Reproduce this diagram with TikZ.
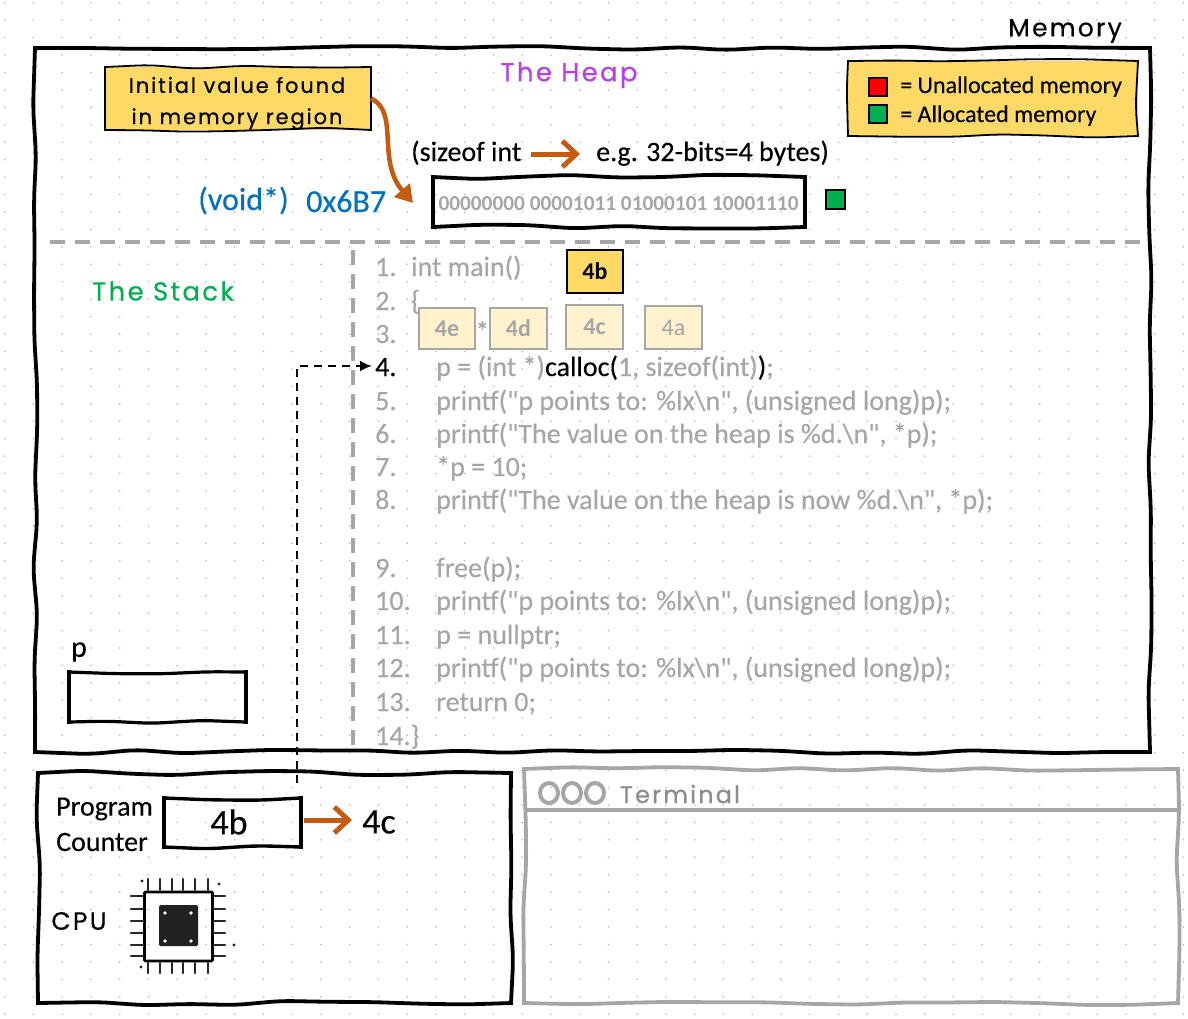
\documentclass[tikz,border=0pt]{standalone}
\usepackage{fontspec}
\usepackage{tikz}
\usetikzlibrary{decorations.pathmorphing,arrows.meta}
\setmainfont{Carlito}
\newfontfamily\bodyfont[UprightFeatures={FakeBold=0.25}]{Carlito}
\newfontfamily\handfont[LetterSpace=9,FakeBold=0.5]{Poppins}
\definecolor{notefill}{HTML}{FFD966}
\definecolor{palefill}{HTML}{FFF2CC}
\definecolor{linegray}{HTML}{A6A6A6}
\definecolor{rust}{HTML}{C55A11}
\definecolor{okgreen}{HTML}{00B050}
\definecolor{codeblue}{HTML}{0070C0}
\definecolor{heappurple}{HTML}{B93FE8}
\tikzset{
  rough/.style={decorate,decoration={random steps,segment length=46pt,amplitude=2.4pt},rounded corners=12pt,line cap=rect},
  area/.style={inner sep=0pt,outer sep=0pt,anchor=north west},
  swatch/.style={draw,line width=1.3pt,minimum size=18pt,inner sep=0pt},
  bytebox/.style={area,draw=black,fill=notefill,line width=1.8pt,font=\fontsize{24}{24}\selectfont\bfseries},
  palebox/.style={area,draw=linegray,fill=palefill,text=linegray,line width=1.6pt,font=\fontsize{24}{24}\selectfont\bfseries},
  hand/.style={font=\fontsize{#1}{#1}\selectfont\handfont},
  body/.style={font=\fontsize{#1}{#1}\selectfont\bodyfont,inner sep=0pt,yshift=-1pt},
  body/.default=28,
  codeline/.style={body,text=linegray,anchor=base west},
  thick arrow/.style={draw=rust,line width=5pt,-{Straight Barb[length=14pt,width=26pt,line width=5pt]}},
  pin/.style={line width=2.6pt,line cap=round,color=black!85}
}
\newcommand{\roughsides}[2]{
  \draw[rough,#2] (#1.north west)--(#1.north east);
  \draw[rough,#2] (#1.north east)--(#1.south east);
  \draw[rough,#2] (#1.south east)--(#1.south west);
  \draw[rough,#2] (#1.south west)--(#1.north west);
}
\begin{document}
\begin{tikzpicture}[x=1pt,y=-1pt]
\pgfmathsetseed{11}
\useasboundingbox (0,0) rectangle (1188,1018);
\fill[white] (0,0) rectangle (1188,1018);
\foreach \i in {0,...,41}
  \foreach \j in {0,...,58}
    \fill[black!28] ({4.7+28.75*\i},{2.7+17.44*\j}) circle [radius=0.9];

% memory
\node[area,minimum width=1115pt,minimum height=704pt] (memory) at (35,48) {};
\roughsides{memory}{line width=3.8pt}
\node[hand=25] (memorylabel) at (1065,31) {Memory};
\node[hand=26,text=heappurple] (heaplabel) at (569,75) {The Heap};
\node[hand=26,text=okgreen] (stacklabel) at (163,291) {The Stack};

% divider
\draw[linegray,line width=4pt,dash pattern=on 15pt off 10pt] (50,242)--(1140,242);
\draw[linegray,line width=4pt,dash pattern=on 15pt off 9pt] (353,250)--(353,750);

% note
\node[area,fill=notefill,minimum width=266pt,minimum height=63pt] (note) at (105,67) {};
\roughsides{note}{line width=1.8pt}
\node[hand=21] (noteone) at (237,85) {Initial value found};
\node[hand=21] (notetwo) at (237,119) {in memory region};
\coordinate (notearrow) at (413,203);
\draw[draw=rust,line width=4.5pt,-{Triangle[length=17pt,width=20pt]}] (note.east) ..controls (400,112) and (376,160) .. (notearrow);

% legend
\node[area,fill=notefill,minimum width=290pt,minimum height=75pt] (legend) at (848,61) {};
\roughsides{legend}{line width=1.8pt}
\node[swatch,fill=red] (redkey) at (878,87) {};
\node[swatch,fill=okgreen] (greenkey) at (878,114) {};
\node[body=24,anchor=base west] (redtext) at (900,92) {= Unallocated memory};
\node[body=24,anchor=base west] (greentext) at (900,121) {= Allocated memory};

% sizeof
\node[body,anchor=base west] (sizeofint) at (411,160) {(sizeof int};
\node[body,anchor=base west] (bytes) at (596,160) {e.g. 32-bits=4 bytes)};
\coordinate (sizestart) at (531,154);
\coordinate (sizeend) at (580,154);
\draw[thick arrow] (sizestart)--(sizeend);

% value
\node[area,minimum width=372pt,minimum height=50pt] (valuebox) at (433,177) {};
\roughsides{valuebox}{line width=3.8pt}
\node[text=linegray,font=\fontsize{21.3}{21.3}\selectfont\bfseries] (valuetext) at (618.5,204) {00000000 00001011 01000101 10001110};
\node[swatch,fill=okgreen,minimum size=19pt] (valuekey) at (835.5,199.5) {};
\node[body=32,text=codeblue,anchor=base west] (voidtext) at (198,209) {(void*)};
\node[body=32,text=codeblue,anchor=base west] (addrtext) at (306,211) {0x6B7};

% code
\foreach \y/\num/\txt in {309/2/{},342/3/{},
    409/5/{printf("p points to: \%lx\textbackslash n", (unsigned long)p);},
    442/6/{printf("The value on the heap is \%d.\textbackslash n", *p);},
    475/7/{*p = 10;},
    508/8/{printf("The value on the heap is now \%d.\textbackslash n", *p);},
    576/9/{free(p);},
    609/10/{printf("p points to: \%lx\textbackslash n", (unsigned long)p);},
    643/11/{p = nullptr;},
    676/12/{printf("p points to: \%lx\textbackslash n", (unsigned long)p);},
    710/13/{return 0;}}
{
  \node[codeline] (num\num) at (375,\y) {\num.};
  \node[codeline] (line\num) at (436,\y) {\txt};
}
\node[codeline] (num1) at (375,275) {1.};
\node[codeline] (line1) at (411,275) {int main()};
\node[codeline] (line2) at (411,309) {\{};
\node[codeline] (num14) at (375,744) {14.\}};
\node[codeline,text=black] (num4) at (375,375) {4.};
\node[codeline] (line4) at (436,375) {p = (int *)\textcolor{black}{calloc(}1, sizeof(int)\textcolor{black}{)};};
\node[codeline] (star) at (475,340) {*};

% instruction bytes
\node[bytebox,minimum width=56pt,minimum height=43pt] (byteb) at (567,250) {4b};
\node[palebox,minimum width=56pt,minimum height=41pt] (bytee) at (419,308) {4e};
\node[palebox,minimum width=57pt,minimum height=41pt] (byted) at (490,308) {4d};
\node[palebox,minimum width=57pt,minimum height=44pt] (bytec) at (566,305) {4c};
\node[palebox,minimum width=57pt,minimum height=43pt,font=\fontsize{24}{24}\selectfont] (bytea) at (645,306) {4a};

% stack
\node[body=30] (plabel) at (79,651) {p};
\node[area,minimum width=177pt,minimum height=50pt] (pbox) at (69,672) {};
\roughsides{pbox}{line width=3.2pt}

% cpu
\node[area,minimum width=473pt,minimum height=230pt] (cpu) at (38,773) {};
\roughsides{cpu}{line width=3.8pt}
\node[body,anchor=west] (program) at (56,808) {Program};
\node[body,anchor=west] (counter) at (56,841) {Counter};
\node[area,minimum width=137pt,minimum height=49pt] (pcbox) at (164,798) {};
\roughsides{pcbox}{line width=3.4pt}
\node[font=\fontsize{36}{36}\selectfont\bodyfont,inner sep=0pt] (pcvalue) at (229,822) {4b};
\node[font=\fontsize{36}{36}\selectfont\bodyfont,anchor=west,inner sep=0pt] (nextbyte) at (362,822) {4c};
\coordinate (pcright) at (304,820);
\coordinate (pcnext) at (352,820);
\draw[thick arrow] (pcright)--(pcnext);
\node[hand=25] (cpulabel) at (79,921) {CPU};
\coordinate (pctop) at (297,783);
\draw[black,line width=2.6pt,dash pattern=on 8pt off 6pt,-{Latex[length=12pt,width=11pt]}] (pctop)--(297,366)--(372,366);

% chip
\node[draw,line width=2.8pt,minimum width=68pt,minimum height=69pt,inner sep=0pt,rounded corners=1pt] (chip) at (178.5,926.5) {};
\node[fill=black!87,rounded corners=1.5pt,minimum width=39pt,minimum height=41pt,inner sep=0pt] (die) at (178.5,925.5) {};
\foreach \x in {148,160,172,183,195,208}{
  \draw[pin] (\x,879)--(\x,890);
  \draw[pin] (\x,963)--(\x,973);
}
\foreach \y in {896,909,921,933,945,956}{
  \draw[pin] (131,\y)--(143,\y);
  \draw[pin] (214,\y)--(225,\y);
}
\foreach \x/\y in {165/913,191/913,165/941,191/941}
  \fill[white] (\x,\y) circle [radius=1.8];
\foreach \x/\y in {142/881,219/884,234/945,141/967}
  \fill[black!85] (\x,\y) circle [radius=1.6];

% terminal
\node[area,minimum width=654pt,minimum height=234pt] (terminal) at (524,769) {};
\roughsides{terminal}{draw=linegray,line width=3.8pt}
\coordinate (barleft) at (524,810);
\coordinate (barright) at (1178,810);
\draw[linegray,line width=3.4pt] (barleft)--(barright);
\foreach \x in {549,572,595}
  \draw[linegray,line width=4pt] (\x,793) ellipse [x radius=9,y radius=10];
\node[hand=24,text=black!45] (terminallabel) at (680,794) {Terminal};
\end{tikzpicture}
\end{document}
